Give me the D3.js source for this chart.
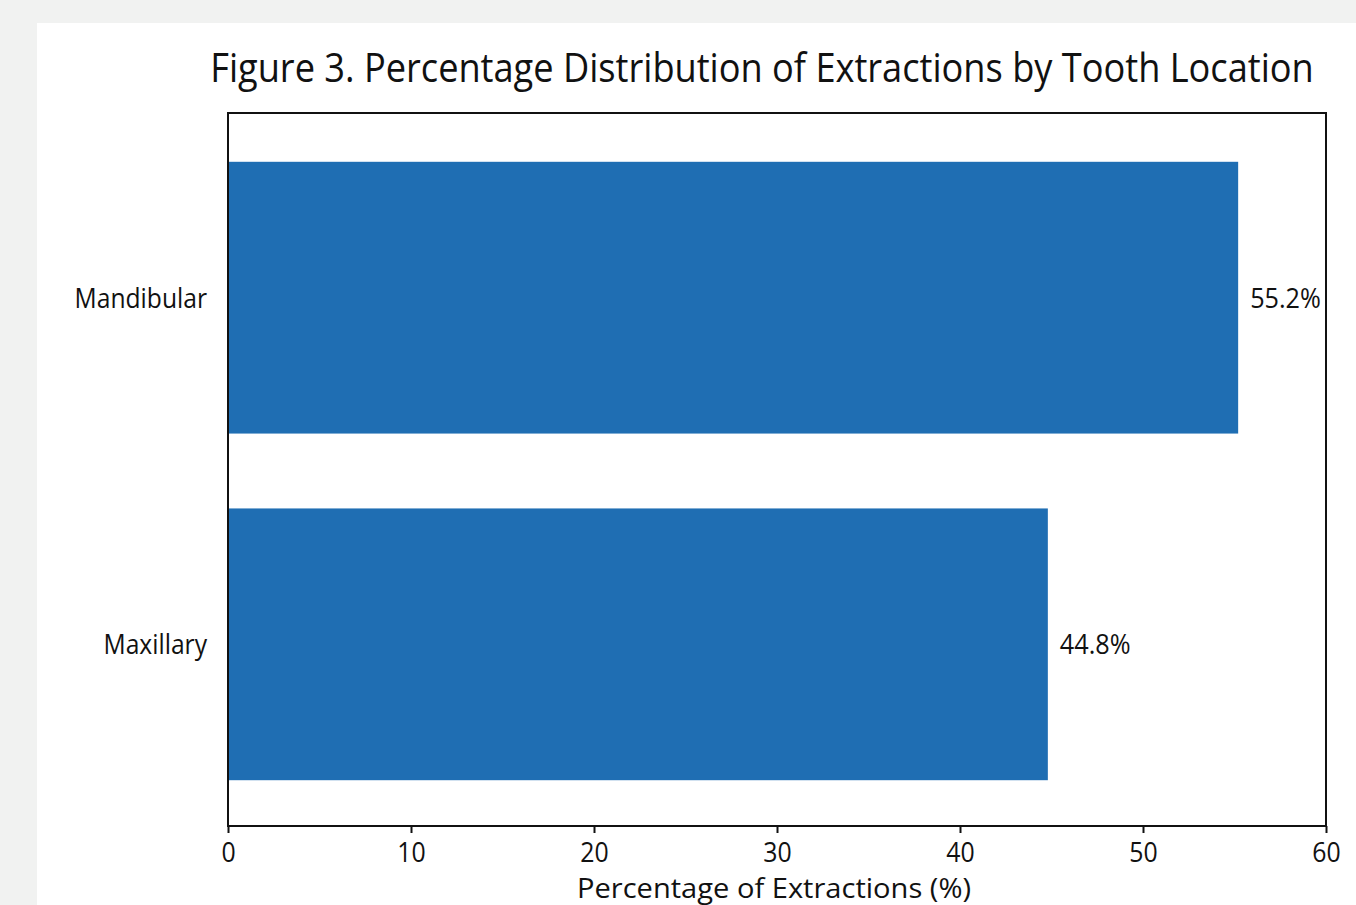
<!DOCTYPE html>
<html>
<head>
<meta charset="utf-8">
<script src="https://cdn.jsdelivr.net/npm/d3@7"></script>
<style>
  html, body { margin: 0; padding: 0; background: #f1f2f1; }
  svg { display: block; }
</style>
</head>
<body>
<svg id="chart" width="1356" height="905"></svg>
<script>
// Share of extractions by arch
const categories = ["Mandibular", "Maxillary"];
const percentages = [55.2, 44.8];
const xTicks = [0, 10, 20, 30, 40, 50, 60];

const svg = d3.select("#chart");
const font = "'Open Sans', 'Noto Sans', sans-serif";
const ink = "#111";

// squeeze a text element horizontally so it reads like a condensed face
function condense(sel, factor) {
  sel.each(function () {
    const w = this.getComputedTextLength();
    d3.select(this).attr("textLength", w * factor).attr("lengthAdjust", "spacingAndGlyphs");
  });
}

// white card
svg.append("rect").attr("x", 37).attr("y", 23).attr("width", 1400).attr("height", 1000).attr("fill", "#ffffff");

const plot = { left: 228, right: 1326, top: 113, bottom: 826 };

const x = d3.scaleLinear().domain([0, 60]).range([plot.left, plot.right]);
const y = d3.scaleBand().domain(categories).range([plot.top + 2, plot.bottom + 1])
  .paddingInner(0.216).paddingOuter(0.135);

// title, horizontally scaled to span 1104px
const titleG = svg.append("g");
const title = titleG.append("text")
  .attr("x", 0).attr("y", 0)
  .attr("text-anchor", "middle")
  .style("font-family", font).style("font-size", "40px").attr("fill", ink)
  .text("Figure 3. Percentage Distribution of Extractions by Tooth Location");
const titleW = title.node().getComputedTextLength();
titleG.attr("transform", `translate(762,82) scale(${1104 / titleW},1)`);

// bars
svg.selectAll("rect.bar").data(categories).enter().append("rect")
  .attr("class", "bar")
  .attr("x", x(0))
  .attr("y", d => y(d))
  .attr("width", (d, i) => x(percentages[i]) - x(0))
  .attr("height", y.bandwidth())
  .attr("fill", "#1f6eb3");

// value labels
svg.selectAll("text.val").data(categories).enter().append("text")
  .attr("class", "val")
  .attr("x", (d, i) => x(percentages[i]) + 12)
  .attr("y", d => y(d) + y.bandwidth() / 2 + 10)
  .style("font-family", font).style("font-size", "28px").attr("fill", ink)
  .text((d, i) => percentages[i].toFixed(1) + "%")
  .call(condense, 0.9);

// category labels
svg.selectAll("text.cat").data(categories).enter().append("text")
  .attr("class", "cat")
  .attr("x", 207)
  .attr("y", d => y(d) + y.bandwidth() / 2 + 10)
  .attr("text-anchor", "end")
  .style("font-family", font).style("font-size", "28px").attr("fill", ink)
  .text(d => d)
  .call(condense, 0.88);

// frame
svg.append("rect")
  .attr("x", plot.left).attr("y", plot.top)
  .attr("width", plot.right - plot.left).attr("height", plot.bottom - plot.top)
  .attr("fill", "none").attr("stroke", ink).attr("stroke-width", 2);

// x axis
const xAxis = svg.append("g")
  .attr("transform", `translate(0,${plot.bottom})`)
  .call(d3.axisBottom(x).tickValues(xTicks).tickSize(7).tickPadding(10).tickFormat(d3.format("d")));
xAxis.select(".domain").remove();
xAxis.selectAll(".tick line").attr("stroke", ink).attr("stroke-width", 2);
xAxis.selectAll(".tick text")
  .style("font-family", font).style("font-size", "27px").attr("fill", ink)
  .call(condense, 0.92);

// x axis title
svg.append("text")
  .attr("x", 774).attr("y", 898)
  .attr("text-anchor", "middle")
  .style("font-family", font).style("font-size", "27px").attr("fill", ink)
  .text("Percentage of Extractions (%)")
  .call(sel => sel.attr("textLength", 394).attr("lengthAdjust", "spacingAndGlyphs"));
</script>
</body>
</html>
